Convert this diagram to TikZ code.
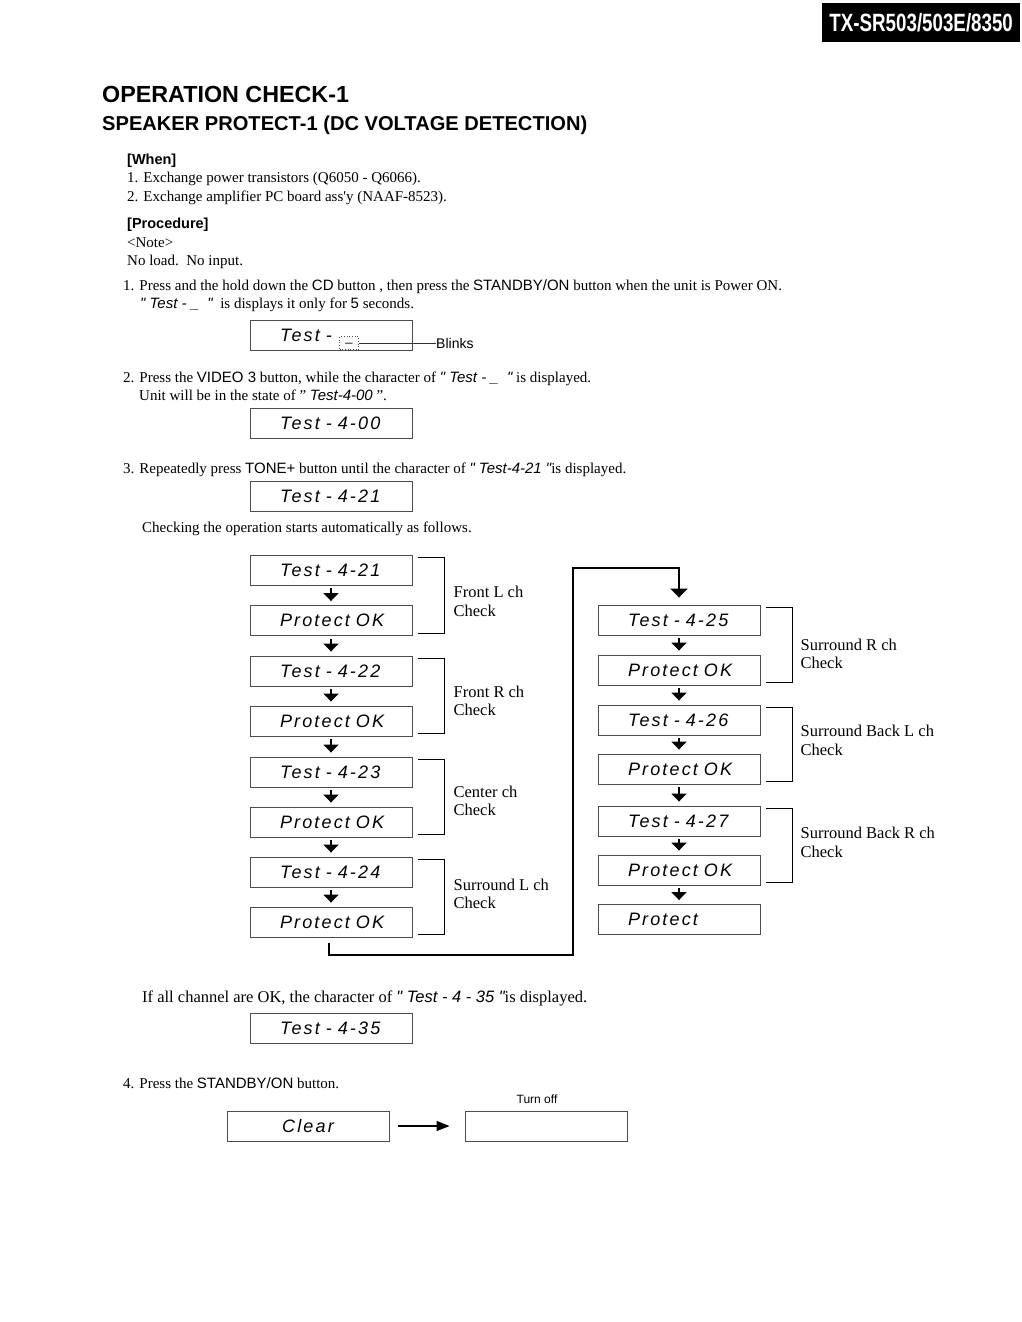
\documentclass[tikz,border=0pt]{standalone}
\usepackage{fontspec}
\setmainfont{Liberation Serif}
\newfontfamily\hv{Liberation Sans}
\newfontfamily\lcdfont[LetterSpace=12]{Liberation Sans}
\newfontfamily\hdrfont[FakeStretch=0.75]{Liberation Sans}
\usetikzlibrary{calc,positioning,arrows.meta}
\newcommand\txtsize{\fontsize{15}{18}\selectfont}
\newcommand\bigtxtsize{\fontsize{16.5}{18.5}\selectfont}
\tikzset{
  lcdpad/.store in=\lcdpad,
  lcdpad=14pt,
  lcdbox/.style={
    rectangle,
    draw=black!70, line width=0.9pt,
    minimum width=162pt,
    minimum height=30pt,
    text width=130pt,
    inner xsep=16pt, inner ysep=0pt,
    align=left,
    execute at begin node=\hspace*{\lcdpad},
    font=\lcdfont\itshape\fontsize{18}{18}\selectfont},
  flowarr/.style={-{Triangle[width=15pt,length=8pt]}, line width=1.6pt,
    shorten <=3pt, shorten >=4pt},
  loopline/.style={-{Triangle[width=17pt,length=9pt]}, line width=2.4pt,
    line join=miter, shorten >=7pt},
  bracket/.style={draw, line width=0.8pt},
  chlabel/.style={anchor=west, align=left, inner sep=0pt, font=\bigtxtsize},
  txt/.style={anchor=base west, inner sep=0pt, font=\txtsize},
}

\begin{document}
\begin{tikzpicture}[x=1pt,y=-1pt]

    \useasboundingbox (0,0) rectangle (1022,1322);

    % header
    \node[fill=black, text=white, anchor=north west, minimum width=198pt,
          minimum height=39pt, inner sep=0pt,
          font=\hdrfont\bfseries\fontsize{25}{25}\selectfont] (model) at (822,3) {TX-SR503/503E/8350};

    \node[anchor=base west, inner sep=0pt, font=\hv\bfseries\fontsize{23.3}{23}\selectfont] (title) at (102,102) {OPERATION CHECK-1};
    \node[anchor=base west, inner sep=0pt, font=\hv\bfseries\fontsize{20.1}{20}\selectfont] (subtitle) at (102,130) {SPEAKER PROTECT-1 (DC VOLTAGE DETECTION)};

    % when / procedure
    \node[txt, font=\hv\bfseries\fontsize{14.5}{18}\selectfont] (when) at (127,164) {[When]};
    \node[txt] (when1) at (127,182) {1. Exchange power transistors (Q6050 - Q6066).};
    \node[txt] (when2) at (127,201) {2. Exchange amplifier PC board ass\textquotesingle y (NAAF-8523).};
    \node[txt, font=\hv\bfseries\fontsize{14.5}{18}\selectfont] (proc) at (127,228) {[Procedure]};
    \node[txt] (note) at (127,247) {<Note>};
    \node[txt] (noload) at (127,265) {No load.\ \ No input.};

    % step 1
    \node[txt] (step1) at (123,290) {1. Press and the hold down the {\hv CD} button , then press the {\hv STANDBY/ON} button when the unit is Power ON.};
    \node[txt] (step1b) at (140,308) {{\hv\itshape " Test - \_ \ "} \ is displays it only for {\hv 5} seconds.};
    \node[lcdbox] (tblink) at (331,335) {Test -};
    \node[draw=black!70, dotted, line width=0.7pt, minimum width=19pt, minimum height=13pt,
          inner sep=0pt, font=\hv\fontsize{13}{13}\selectfont] (blinkbox) at (349,343) {\_};
    \node[anchor=west, inner sep=0pt, font=\hv\fontsize{14}{14}\selectfont] (blinks) at (436,343) {Blinks};
    \draw[line width=0.7pt, black!80] (blinkbox.east) -- (blinks.west);

    % step 2
    \node[txt] (step2) at (123,382) {2. Press the {\hv VIDEO 3} button, while the character of {\hv\itshape " Test - \_ \ "} is displayed.};
    \node[txt] (step2b) at (139,400) {Unit will be in the state of " {\hv\itshape Test-4-00} ".};
    \node[lcdbox] (t00) at (331,423.5) {Test - 4-00};

    % step 3
    \node[txt] (step3) at (123,473) {3. Repeatedly press {\hv TONE+} button until the character of {\hv\itshape " Test-4-21 "}is displayed.};
    \node[lcdbox] (tstart) at (331,496) {Test - 4-21};
    \node[txt] (auto) at (142,532) {Checking the operation starts automatically as follows.};

    % left column
    \node[lcdbox] (t21)  at (331,570) {Test - 4-21};
    \node[lcdbox] (ok21) at (331,620.5) {Protect OK};
    \node[lcdbox] (t22)  at (331,671) {Test - 4-22};
    \node[lcdbox] (ok22) at (331,721) {Protect OK};
    \node[lcdbox] (t23)  at (331,772) {Test - 4-23};
    \node[lcdbox] (ok23) at (331,822) {Protect OK};
    \node[lcdbox] (t24)  at (331,872) {Test - 4-24};
    \node[lcdbox] (ok24) at (331,922) {Protect OK};

    % right column
    \node[lcdbox] (t25)  at (679,620) {Test - 4-25};
    \node[lcdbox] (ok25) at (679,670) {Protect OK};
    \node[lcdbox] (t26)  at (679,720) {Test - 4-26};
    \node[lcdbox] (ok26) at (679,769) {Protect OK};
    \node[lcdbox] (t27)  at (679,821) {Test - 4-27};
    \node[lcdbox] (ok27) at (679,870) {Protect OK};
    \node[lcdbox] (prot) at (679,919.5) {Protect};

    \foreach \a/\b in {t21/ok21, ok21/t22, t22/ok22, ok22/t23, t23/ok23, ok23/t24, t24/ok24,
                       t25/ok25, ok25/t26, t26/ok26, ok26/t27, t27/ok27, ok27/prot}
        \draw[flowarr] (\a) -- (\b);

    % brackets
    \foreach \a/\b in {t21/ok21, t22/ok22, t23/ok23, t24/ok24, t25/ok25, t26/ok26, t27/ok27}
        \draw[bracket] ($(\a.north east)+(6,3)$) -- ++(26,0) |- ($(\b.south east)+(6,-3)$);

    \node[chlabel] (lblfl) at ($(t21.east)!0.5!(ok21.east)+(41,6)$) {Front L ch\\Check};
    \node[chlabel] (lblfr) at ($(t22.east)!0.5!(ok22.east)+(41,5)$) {Front R ch\\Check};
    \node[chlabel] (lblc)  at ($(t23.east)!0.5!(ok23.east)+(41,4)$) {Center ch\\Check};
    \node[chlabel] (lblsl) at ($(t24.east)!0.5!(ok24.east)+(41,-3)$) {Surround L ch\\Check};
    \node[chlabel] (lblsr) at ($(t25.east)!0.5!(ok25.east)+(40,9)$) {Surround R ch\\Check};
    \node[chlabel] (lblbl) at ($(t26.east)!0.5!(ok26.east)+(40,-4)$) {Surround Back L ch\\Check};
    \node[chlabel] (lblbr) at ($(t27.east)!0.5!(ok27.east)+(40,-3)$) {Surround Back R ch\\Check};

    % loop to the right column
    \coordinate (loopstart) at ($(ok24.south)+(-2,6)$);
    \coordinate (turnA) at (573,955);
    \coordinate (turnB) at (573,568);
    \draw[loopline] (loopstart) |- (turnA) -- (turnB) -| (t25.north);

    % result
    \node[txt, font=\bigtxtsize] (allok) at (142,1002) {If all channel are OK, the character of {\hv\itshape " Test - 4 - 35 "}is displayed.};
    \node[lcdbox] (t35) at (331,1028) {Test - 4-35};

    % step 4
    \node[txt] (step4) at (123,1088) {4. Press the {\hv STANDBY/ON} button.};
    \node[lcdbox, align=center, lcdpad=0pt] (clear) at (308,1126) {Clear};
    \node[lcdbox] (blank) at (546,1126) {};
    \node[anchor=base, inner sep=0pt, font=\hv\fontsize{12}{12}\selectfont] (turnoff) at ($(blank.north)+(-9,-7)$) {Turn off};
    \draw[-{Triangle[width=10pt,length=13pt]}, line width=1.4pt, shorten <=9pt, shorten >=15pt] (clear) -- (blank);

\end{tikzpicture}
\end{document}
